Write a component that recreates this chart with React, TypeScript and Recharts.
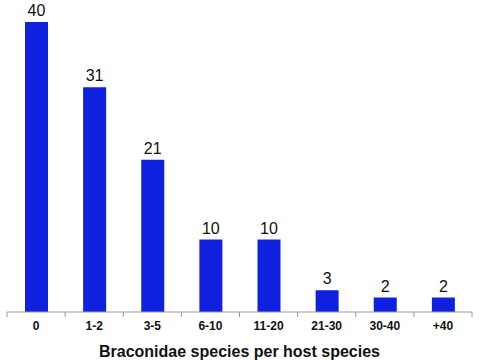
import React from 'react';
import { BarChart, Bar, XAxis, YAxis, LabelList } from 'recharts';

const categories = ['0', '1-2', '3-5', '6-10', '11-20', '21-30', '30-40', '+40'];
const hostCounts = [40, 31, 21, 10, 10, 3, 2, 2];

const data = categories.map((c, i) => ({ cat: c, n: hostCounts[i] }));

const FONT = 'Arial, "Liberation Sans", sans-serif';

function BoundaryTick(props: any) {
  const { x, y, payload, index, visibleTicksCount } = props;
  const half = payload && payload.offset ? payload.offset : 29;
  const axisY = y - 8;
  return (
    <g>
      <line x1={x - half} y1={axisY} x2={x - half} y2={axisY + 5} stroke="#999" />
      {index === visibleTicksCount - 1 && (
        <line x1={x + half} y1={axisY} x2={x + half} y2={axisY + 5} stroke="#999" />
      )}
      <text x={x} y={y + 10} textAnchor="middle" fontFamily={FONT} fontSize={12} fontWeight="bold" fill="#111">
        {payload.value}
      </text>
    </g>
  );
}

export default function App() {
  return (
    <div style={{ position: 'absolute', left: 0, top: 0, width: 480, height: 360, background: '#fff' }}>
      <BarChart width={480} height={360} data={data} margin={{ top: 22, right: 8, left: 7, bottom: 0 }} barSize={23}>
        <XAxis
          dataKey="cat"
          height={48}
          axisLine={{ stroke: '#999' }}
          tickLine={false}
          tick={<BoundaryTick />}
          interval={0}
          label={{ value: 'Braconidae species per host species', position: 'insideBottom', offset: 3, fontFamily: FONT, fontSize: 16, fontWeight: 'bold', fill: '#111' }}
        />
        <YAxis hide domain={[0, 40]} />
        <Bar dataKey="n" fill="#1020e0" isAnimationActive={false}>
          <LabelList dataKey="n" position="top" offset={6} fontFamily={FONT} fontSize={16} fill="#111" />
        </Bar>
      </BarChart>
    </div>
  );
}
